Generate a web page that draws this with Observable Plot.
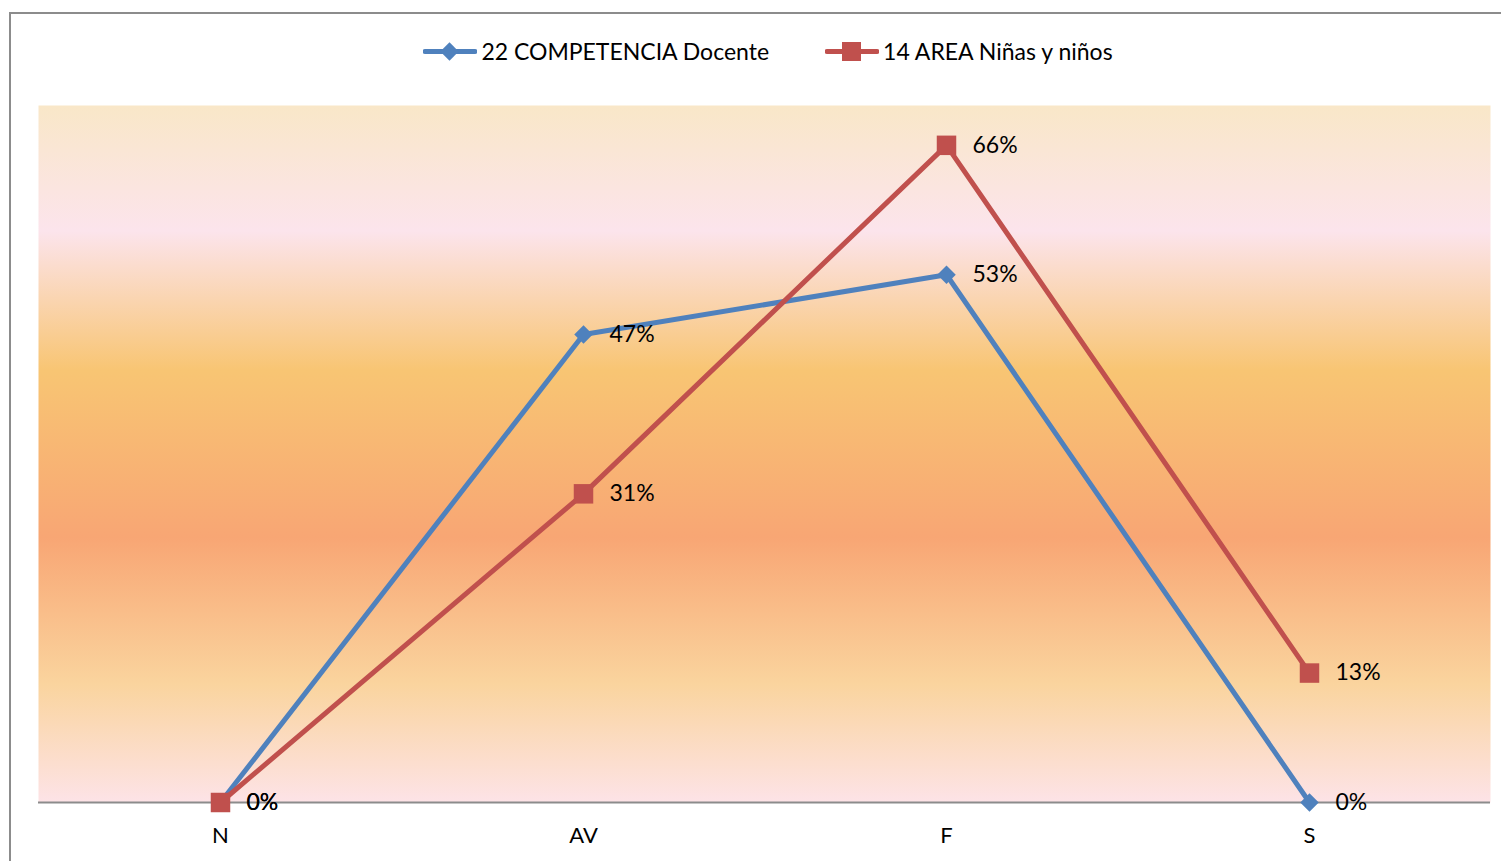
<!DOCTYPE html>
<html>
<head>
<meta charset="utf-8">
<script src="https://cdn.jsdelivr.net/npm/d3@7"></script>
<script src="https://cdn.jsdelivr.net/npm/@observablehq/plot@0.6"></script>
<style>
  html, body { margin: 0; padding: 0; background: #fff; overflow: hidden; }
  #frame {
    position: absolute; left: 9px; top: 12px; width: 1500px; height: 860px;
    border-left: 2px solid #8c8c8c; border-top: 2px solid #8c8c8c;
    font-family: Lato, "Open Sans", sans-serif;
  }
  #legend {
    height: 74px; display: flex; align-items: center; justify-content: center;
    font-size: 23px; color: #000; padding-left: 14px; box-sizing: border-box;
  }
  .item { display: flex; align-items: center; margin: 0 28px; }
  .item svg { margin-right: 4px; }
  #chart svg { display: block; }
</style>
</head>
<body>
<div id="frame">
  <div id="legend"></div>
  <div id="chart"></div>
</div>
<script>
const categories = ["N", "AV", "F", "S"];
const seriesNames = ["22 COMPETENCIA Docente", "14 AREA Niñas y niños"];
const competenciaDocente = [0, 0.47, 0.53, 0];
const areaNinos = [0, 0.31, 0.66, 0.13];
const seriesColors = ["#4F81BD", "#C0504D"];

const data = [];
categories.forEach((c, i) => data.push({cat: c, value: competenciaDocente[i], series: seriesNames[0]}));
categories.forEach((c, i) => data.push({cat: c, value: areaNinos[i], series: seriesNames[1]}));
const blue = data.filter(d => d.series === seriesNames[0]);
const red = data.filter(d => d.series === seriesNames[1]);

// Legend
const legend = document.getElementById("legend");
seriesNames.forEach((name, i) => {
  const item = document.createElement("div");
  item.className = "item";
  const marker = i === 0
    ? `<rect x="20" y="4" width="13" height="13" fill="${seriesColors[i]}" transform="rotate(45 26.5 10.5)"/>`
    : `<rect x="17" y="1" width="19" height="19" fill="${seriesColors[i]}"/>`;
  item.innerHTML = `<svg width="54" height="21"><line x1="2" x2="52" y1="10.5" y2="10.5" stroke="${seriesColors[i]}" stroke-width="5" stroke-linecap="round"/>${marker}</svg><span>${name}</span>`;
  legend.appendChild(item);
});

const defs = () => {
  const d = d3.create("svg:defs");
  const g = d.append("linearGradient").attr("id", "bg").attr("x1", 0).attr("y1", 0).attr("x2", 0).attr("y2", 1);
  [[0, "#F9E7C8"], [0.18, "#FCE4EC"], [0.38, "#F8C573"], [0.62, "#F8A674"], [0.83, "#FAD49E"], [1, "#FDE3E7"]]
    .forEach(([o, c]) => g.append("stop").attr("offset", o).attr("stop-color", c));
  return d.node();
};

const chart = Plot.plot({
  width: 1490,
  height: 773,
  marginLeft: 27,
  marginRight: 11,
  marginTop: 17,
  marginBottom: 59,
  style: {fontFamily: "Lato, 'Open Sans', sans-serif", background: "transparent", overflow: "visible"},
  x: {type: "point", domain: categories, padding: 0.5, label: null},
  y: {domain: [0, 0.7], axis: null},
  color: {domain: seriesNames, range: seriesColors},
  marks: [
    defs,
    Plot.frame({fill: "url(#bg)", stroke: null}),
    Plot.ruleY([0], {stroke: "#8c8c8c", strokeWidth: 2}),
    Plot.axisX({tickSize: 0, tickPadding: 25, fontSize: 22, fill: "#000"}),
    Plot.line(data, {x: "cat", y: "value", z: "series", stroke: "series", strokeWidth: 5}),
    Plot.dot(blue, {x: "cat", y: "value", symbol: "square", r: 7.4, rotate: 45, fill: seriesColors[0], stroke: null}),
    Plot.dot(red, {x: "cat", y: "value", symbol: "square", r: 11, fill: seriesColors[1], stroke: null}),
    Plot.text(data, {x: "cat", y: "value", text: d => Math.round(d.value * 100) + "%", dx: 26, textAnchor: "start", fontSize: 23, fill: "#000"})
  ]
});
document.getElementById("chart").appendChild(chart);
</script>
</body>
</html>
